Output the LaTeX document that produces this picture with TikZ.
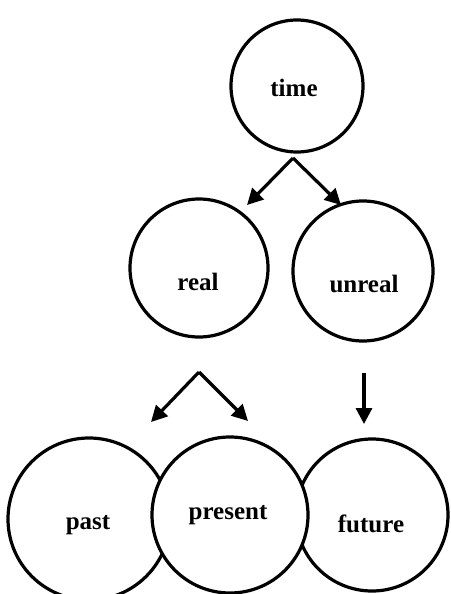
\documentclass[tikz,border=0pt]{standalone}
\usepackage{fontspec}
\setmainfont{Liberation Serif}
\usetikzlibrary{arrows.meta}
\begin{document}
\begin{tikzpicture}[x=1pt,y=-1pt,
  ring/.style={circle,draw=black,line width=3.2pt,inner sep=0pt},
  lbl/.style={font=\fontsize{25}{25}\selectfont\bfseries,inner sep=0pt},
  arr/.style={line width=3.2pt,-{Triangle[length=16pt,width=16pt]}}]
\useasboundingbox (0,0) rectangle (450,594);
\clip (0,0) rectangle (450,594);
\fill[white] (0,0) rectangle (450,594);
% circles
\node[ring,minimum size=132pt] (timec) at (297,86) {};
\node[ring,minimum size=138pt] (realc) at (199,268) {};
\node[ring,minimum size=140pt] (unrealc) at (363,271) {};
\node[ring,minimum size=162pt] (pastc) at (89,519) {};
\node[ring,minimum size=152pt] (futurec) at (372,515) {};
\node[ring,fill=white,minimum size=156pt] (presentc) at (230,515) {};
% labels
\node[lbl] (time) at (294,88) {time};
\node[lbl] (real) at (198,282) {real};
\node[lbl] (unreal) at (364,284) {unreal};
\node[lbl] (past) at (88,525) {past};
\node[lbl] (present) at (228,515) {present};
\node[lbl] (future) at (371,524) {future};
% arrow points
\coordinate (a1) at (293,158);
\coordinate (t1) at (247,205);
\coordinate (t2) at (341,205);
\coordinate (a2) at (199,372);
\coordinate (t3) at (151,422);
\coordinate (t4) at (248,421);
\coordinate (a3) at (364,373);
\coordinate (t5) at (364,424);
\draw[arr] (a1) -- (t1);
\draw[arr] (a1) -- (t2);
\draw[arr] (a2) -- (t3);
\draw[arr] (a2) -- (t4);
\draw[arr] (a3) -- (t5);
\end{tikzpicture}
\end{document}
